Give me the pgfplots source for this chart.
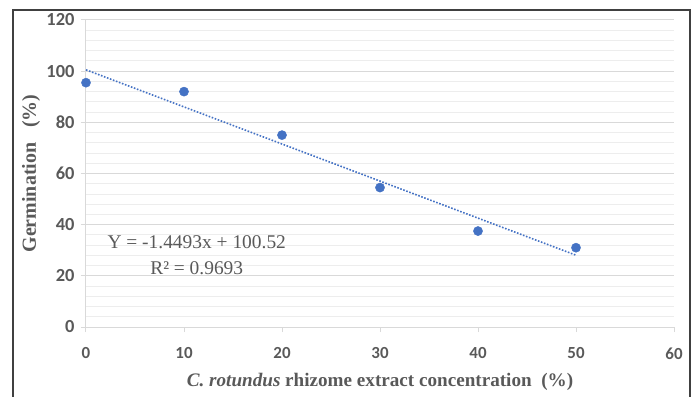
\documentclass[border=0pt]{standalone}
\usepackage{pgfplots}
\pgfplotsset{compat=1.18}
\usepackage{fontspec}
\setmainfont{Liberation Serif}
\newfontfamily\tickfont{Carlito}
\definecolor{txtgray}{HTML}{595959}
\definecolor{majgrid}{HTML}{D9D9D9}
\definecolor{mingrid}{HTML}{EDEDED}
\definecolor{xlblue}{HTML}{4472C4}
\definecolor{border}{HTML}{404040}
\begin{document}
\begin{tikzpicture}
\path[use as bounding box] (-86bp,-70bp) rectangle (609bp,327bp);
\draw[border, line width=1.3bp] (-73bp,-80bp) -- (-73bp,317bp) -- (604bp,317bp) -- (604bp,-80bp);
\begin{axis}[
  at={(0,0)}, anchor=south west,
  scale only axis,
  width=588bp, height=307bp,
  xmin=0, xmax=60, ymin=0, ymax=120,
  xtick={0,10,...,60}, ytick={0,20,...,120},
  minor y tick num=4,
  axis x line*=bottom, axis y line*=left,
  axis line style={draw=majgrid, line width=1bp, -},
  tick align=outside,
  major tick length=5bp, minor tick length=0pt,
  tick style={draw=majgrid, line width=1bp},
  ymajorgrids, yminorgrids,
  major grid style={draw=majgrid, line width=1bp},
  minor grid style={draw=mingrid, line width=0.9bp},
  /pgf/number format/assume math mode=true,
  ticklabel style={font=\tickfont\bfseries\fontsize{17}{19}\selectfont, text=txtgray},
  xticklabel style={yshift=-12bp},
  yticklabel style={xshift=-3bp, font=\tickfont\bfseries\fontsize{18.5}{20}\selectfont},
  xlabel={\textit{C. rotundus} rhizome extract concentration~ (\%)},
  ylabel={Germination~~ (\%)},
  xlabel style={at={(axis description cs:0.5,-0.195)}, anchor=base, font=\bfseries\fontsize{19.2}{22}\selectfont, text=txtgray},
  ylabel style={at={(axis description cs:-0.0935,0.5)}, anchor=center, font=\bfseries\fontsize{20}{22}\selectfont, text=txtgray},
  clip=false,
]
\addplot[xlblue, line width=1.6bp, dash pattern=on 1.6bp off 1.6bp] coordinates {(0,100.52) (50,28.055)};
\addplot[only marks, mark=*, mark size=4.6bp, mark options={fill=xlblue, draw=xlblue}] coordinates {
(0,95.5) (10,92) (20,75) (30,54.5) (40,37.5) (50,31)};
\node[align=center, text=txtgray, font=\fontsize{19.5}{26}\selectfont] at (axis cs:11.3,28.2) {Y = -1.4493x + 100.52\\R² = 0.9693};
\end{axis}
\end{tikzpicture}
\end{document}
